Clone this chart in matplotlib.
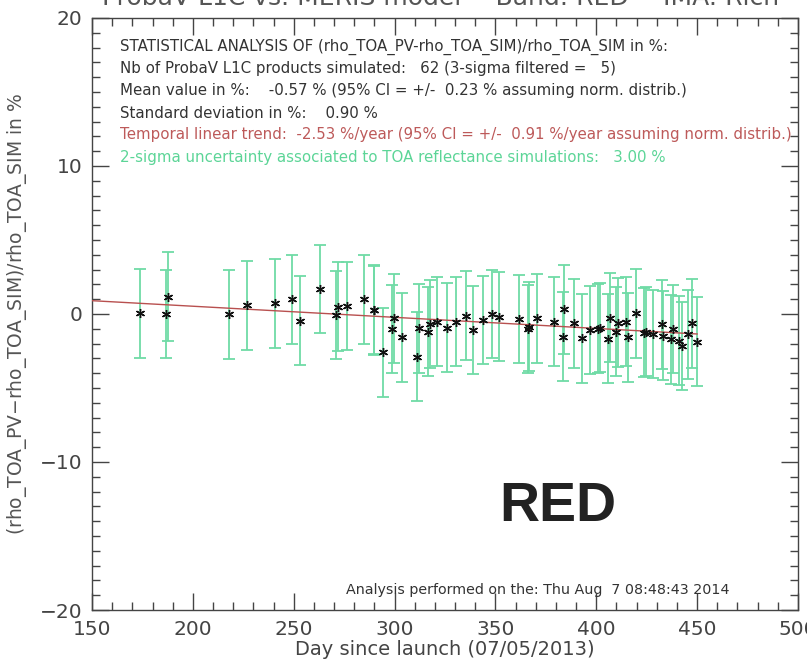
import numpy as np
import matplotlib
matplotlib.use("Agg")
import matplotlib.pyplot as plt
from matplotlib.ticker import MultipleLocator

# Day since launch / relative difference in %
days = [173.8, 186.7, 187.8, 217.9, 226.7, 240.7, 249.3, 253.1, 263.0,
        271.0, 272.2, 276.3, 284.9, 289.6, 290.0, 294.4, 298.5, 299.8, 303.5,
        311.2, 312.1, 316.4, 317.6, 321.2, 326.2, 330.3, 335.3, 339.0, 343.7,
        348.5, 351.9, 361.5, 366.0, 366.8, 370.4,
        379.2, 383.3, 384.1, 389.1, 393.0, 396.9, 400.7, 401.9, 406.0, 406.8,
        409.8, 410.6, 414.7, 415.6, 419.5, 423.6, 424.6, 428.3, 432.4, 433.2,
        437.1, 438.2, 441.2, 442.3, 445.6, 447.3, 450.0]
diff = [0.05, 0.0, 1.17, -0.02, 0.6, 0.72, 1.0, -0.45, 1.69,
        -0.07, 0.5, 0.54, 0.99, 0.3, 0.25, -2.59, -1.01, -0.29, -1.57,
        -2.88, -0.97, -1.19, -0.68, -0.52, -0.92, -0.52, -0.11, -1.08, -0.41,
        0.0, -0.18, -0.34, -1.01, -0.86, -0.29,
        -0.52, -1.53, 0.31, -0.63, -1.64, -1.08, -0.99, -0.92, -1.67, -0.25,
        -1.19, -0.59, -0.52, -1.57, 0.05, -1.26, -1.19, -1.35, -0.70, -1.46,
        -1.71, -1.01, -1.80, -2.16, -1.37, -0.63, -1.87]
uncert = 3.0  # 2-sigma uncertainty in %

trend_days = [150, 450]
trend_vals = [0.9, -1.35]

stats_lines = [
    ("STATISTICAL ANALYSIS OF (rho_TOA_PV-rho_TOA_SIM)/rho_TOA_SIM in %:", "#333333"),
    ("Nb of ProbaV L1C products simulated:   62 (3-sigma filtered =   5)", "#333333"),
    ("Mean value in %:    -0.57 % (95% CI = +/-  0.23 % assuming norm. distrib.)", "#333333"),
    ("Standard deviation in %:    0.90 %", "#333333"),
    ("Temporal linear trend:  -2.53 %/year (95% CI = +/-  0.91 %/year assuming norm. distrib.)", "#bd5a5a"),
    ("2-sigma uncertainty associated to TOA reflectance simulations:   3.00 %", "#5cd597"),
]

plt.rcParams['font.family'] = ['DejaVu Sans']

fig = plt.figure(figsize=(8.07, 6.63), dpi=100)
ax = fig.add_axes([92/807, 1-610/663, 706/807, 592/663])

ax.errorbar(days, diff, yerr=uncert, fmt='none', ecolor='#6fdba6',
            elinewidth=1.3, capsize=4, capthick=1.3, zorder=2)
ax.plot(trend_days, trend_vals, color='#b8504f', lw=1.0, zorder=3)
ax.plot(days, diff, ls='none', marker=(6, 2, 0), ms=6.5, mec='#111111',
        mew=1.0, zorder=4)

ax.set_xlim(150, 500)
ax.set_ylim(-20, 20)
ax.xaxis.set_major_locator(MultipleLocator(50))
ax.xaxis.set_minor_locator(MultipleLocator(10))
ax.yaxis.set_major_locator(MultipleLocator(10))
ax.yaxis.set_minor_locator(MultipleLocator(1))
ax.tick_params(which='both', direction='in', top=True, right=True,
               color='#444444', width=1.0)
ax.tick_params(which='major', length=12, labelsize=14.5, labelcolor='#444444', pad=7)
ax.tick_params(which='minor', length=6)
for s in ax.spines.values():
    s.set_color('#444444')
    s.set_linewidth(1.0)

ax.set_xlabel('Day since launch (07/05/2013)', fontsize=14, color='#444444', labelpad=1)
ax.set_ylabel('(rho_TOA_PV$-$rho_TOA_SIM)/rho_TOA_SIM in %', fontsize=13.5,
              color='#555555', labelpad=8)

for i, (txt, col) in enumerate(stats_lines):
    fig.text(120/807, 1-(47+22*i)/663, txt, fontsize=10.8, color=col,
             va='center', ha='left')

fig.text(346/807, 1-590/663, 'Analysis performed on the: Thu Aug  7 08:48:43 2014',
         fontsize=10.3, color='#333333', va='center', ha='left')

fig.text(558/807, 1-507/663, 'RED', fontsize=40, fontweight='bold',
         family='Liberation Sans', color='#222222', va='center', ha='center')

fig.text(441/807, 1-(-2)/663, 'ProbaV L1C vs. MERIS model -- Band: RED -- IMA: Rich',
         fontsize=18, color='#555555', va='center', ha='center')

fig.savefig('out.png', dpi=100)
